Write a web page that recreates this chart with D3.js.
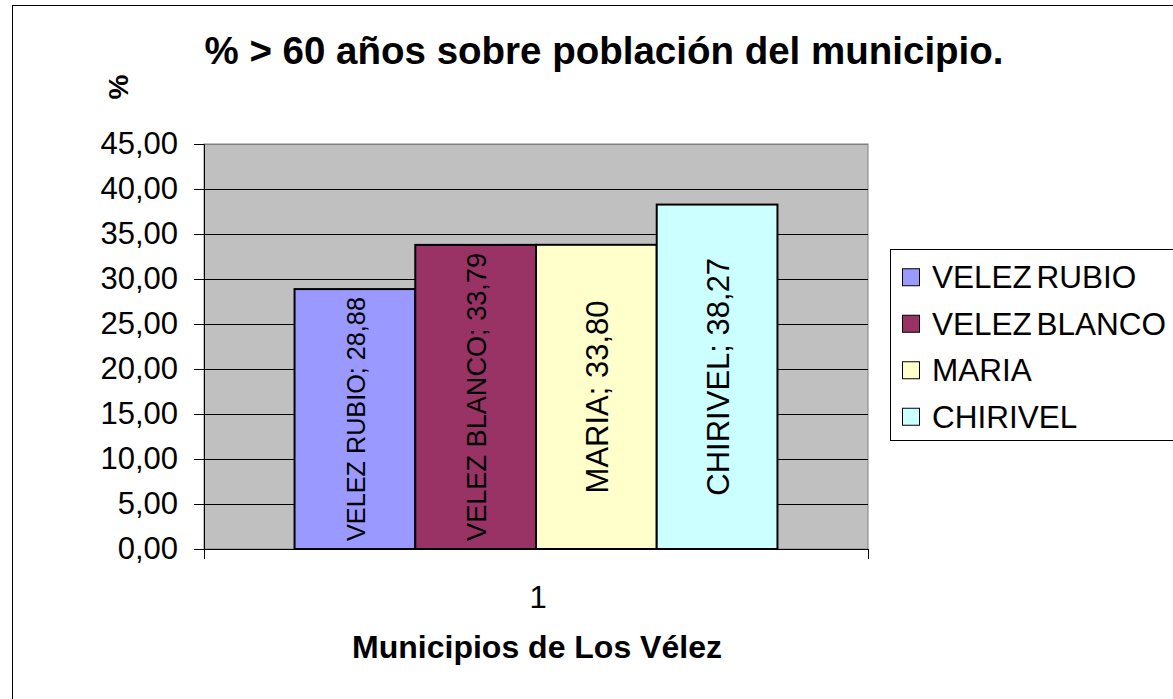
<!DOCTYPE html>
<html>
<head>
<meta charset="utf-8">
<script src="https://cdn.jsdelivr.net/npm/d3@7"></script>
<style>
  body { margin: 0; background: #fff; }
  svg { display: block; font-family: "Liberation Sans", Arial, sans-serif; }
</style>
</head>
<body>
<svg id="chart" width="1173" height="699"></svg>
<script>
// Chart data
const categories = ["1"];
const series = ["VELEZ RUBIO", "VELEZ BLANCO", "MARIA", "CHIRIVEL"];
const values = [28.88, 33.79, 33.80, 38.27];
const colors = ["#9999FF", "#993366", "#FFFFCC", "#CCFFFF"];
const yTickValues = [0, 5, 10, 15, 20, 25, 30, 35, 40, 45];

const svg = d3.select("#chart");
const fmt = v => d3.format(".2f")(v).replace(".", ",");

// Plot area
const plot = { left: 204, right: 868, top: 144, bottom: 549 };

// Outer chart border (cut off at right / bottom)
svg.append("rect")
    .attr("x", 12.5).attr("y", 5.5)
    .attr("width", 1300).attr("height", 900)
    .attr("fill", "#fff").attr("stroke", "#000").attr("stroke-width", 1);

const y = d3.scaleLinear().domain([0, 45]).range([plot.bottom, plot.top]);
const x0 = d3.scaleBand().domain(categories).range([plot.left, plot.right]);
const x1 = d3.scaleBand().domain(series)
    .range([0, x0.bandwidth()])
    .paddingInner(0).paddingOuter(0.75);

// Gray background
svg.append("rect")
    .attr("x", plot.left).attr("y", plot.top)
    .attr("width", plot.right - plot.left).attr("height", plot.bottom - plot.top)
    .attr("fill", "#C0C0C0").attr("stroke", "#808080").attr("stroke-width", 1);

// Gridlines
svg.append("g")
    .selectAll("line")
    .data(yTickValues.filter(d => d > 0))
    .join("line")
    .attr("x1", plot.left).attr("x2", plot.right)
    .attr("y1", d => Math.round(y(d)) + 0.5).attr("y2", d => Math.round(y(d)) + 0.5)
    .attr("stroke", d => d === 45 ? "#808080" : "#000")
    .attr("stroke-width", 1);

// Y axis
const yAxis = svg.append("g")
    .attr("transform", `translate(${plot.left},0)`)
    .call(d3.axisLeft(y).tickValues(yTickValues).tickFormat(fmt).tickSize(10).tickPadding(16));
yAxis.select(".domain").attr("stroke", "#000");
yAxis.selectAll(".tick line").attr("stroke", "#000");
yAxis.selectAll(".tick text")
    .attr("font-size", 31).attr("font-family", "Liberation Sans, Arial, sans-serif").attr("fill", "#000");

// Bars
const group = svg.append("g")
    .selectAll("g")
    .data(categories)
    .join("g")
    .attr("transform", d => `translate(${x0(d)},0)`);

const barData = series.map((s, i) => ({ name: s, value: values[i], color: colors[i] }));

group.selectAll("rect")
    .data(barData)
    .join("rect")
    .attr("x", d => x1(d.name))
    .attr("y", d => y(d.value))
    .attr("width", x1.bandwidth())
    .attr("height", d => y(0) - y(d.value))
    .attr("fill", d => d.color)
    .attr("stroke", "#000")
    .attr("stroke-width", 2);

// Data labels: full size, shrunk when they would not fit inside the bar
const labelSize = 31;
group.selectAll("text.lbl")
    .data(barData)
    .join("text")
    .attr("class", "lbl")
    .attr("transform", d => `translate(${x1(d.name) + x1.bandwidth() / 2 + 1},${(y(d.value) + y(0)) / 2}) rotate(-90)`)
    .attr("text-anchor", "middle")
    .attr("dominant-baseline", "central")
    .attr("font-size", labelSize)
    .attr("fill", "#000")
    .text(d => `${d.name}; ${fmt(d.value)}`)
    .each(function(d) {
        const room = (y(0) - y(d.value)) - 16;
        const len = this.getComputedTextLength();
        if (len > room) d3.select(this).attr("font-size", labelSize * room / len);
    });

// X axis
svg.append("line")
    .attr("x1", plot.left).attr("x2", plot.right)
    .attr("y1", plot.bottom + 0.5).attr("y2", plot.bottom + 0.5)
    .attr("stroke", "#000");
svg.append("g")
    .selectAll("line")
    .data([plot.left, plot.right])
    .join("line")
    .attr("x1", d => d + 0.5).attr("x2", d => d + 0.5)
    .attr("y1", plot.bottom).attr("y2", plot.bottom + 10)
    .attr("stroke", "#000");
svg.append("g")
    .selectAll("text")
    .data(categories)
    .join("text")
    .attr("x", d => x0(d) + x0.bandwidth() / 2 + 2)
    .attr("y", 608)
    .attr("text-anchor", "middle")
    .attr("font-size", 31)
    .text(d => d);

// Titles
svg.append("text")
    .attr("x", 604).attr("y", 64)
    .attr("text-anchor", "middle")
    .attr("font-size", 38.5).attr("font-weight", "bold")
    .text("% > 60 años sobre población del municipio.");

svg.append("text")
    .attr("x", 537).attr("y", 658)
    .attr("text-anchor", "middle")
    .attr("font-size", 32).attr("font-weight", "bold")
    .text("Municipios de Los Vélez");

svg.append("text")
    .attr("transform", "translate(128,87) rotate(-90)")
    .attr("text-anchor", "middle")
    .attr("font-size", 28).attr("font-weight", "bold")
    .text("%");

// Legend
const legend = svg.append("g");
legend.append("rect")
    .attr("x", 890.5).attr("y", 249.5)
    .attr("width", 400).attr("height", 191)
    .attr("fill", "#fff").attr("stroke", "#000");

const ly = d3.scaleBand().domain(series).range([254, 440]);
const items = legend.selectAll("g.item")
    .data(barData)
    .join("g")
    .attr("class", "item")
    .attr("transform", d => `translate(0,${ly(d.name) + ly.bandwidth() / 2})`);
items.append("rect")
    .attr("x", 902.5).attr("y", -8.5)
    .attr("width", 17).attr("height", 17)
    .attr("fill", d => d.color).attr("stroke", "#000");
items.append("text")
    .attr("x", 932).attr("y", 0)
    .attr("dominant-baseline", "central")
    .attr("font-size", 31.5)
    .attr("word-spacing", -4)
    .text(d => d.name);
</script>
</body>
</html>
